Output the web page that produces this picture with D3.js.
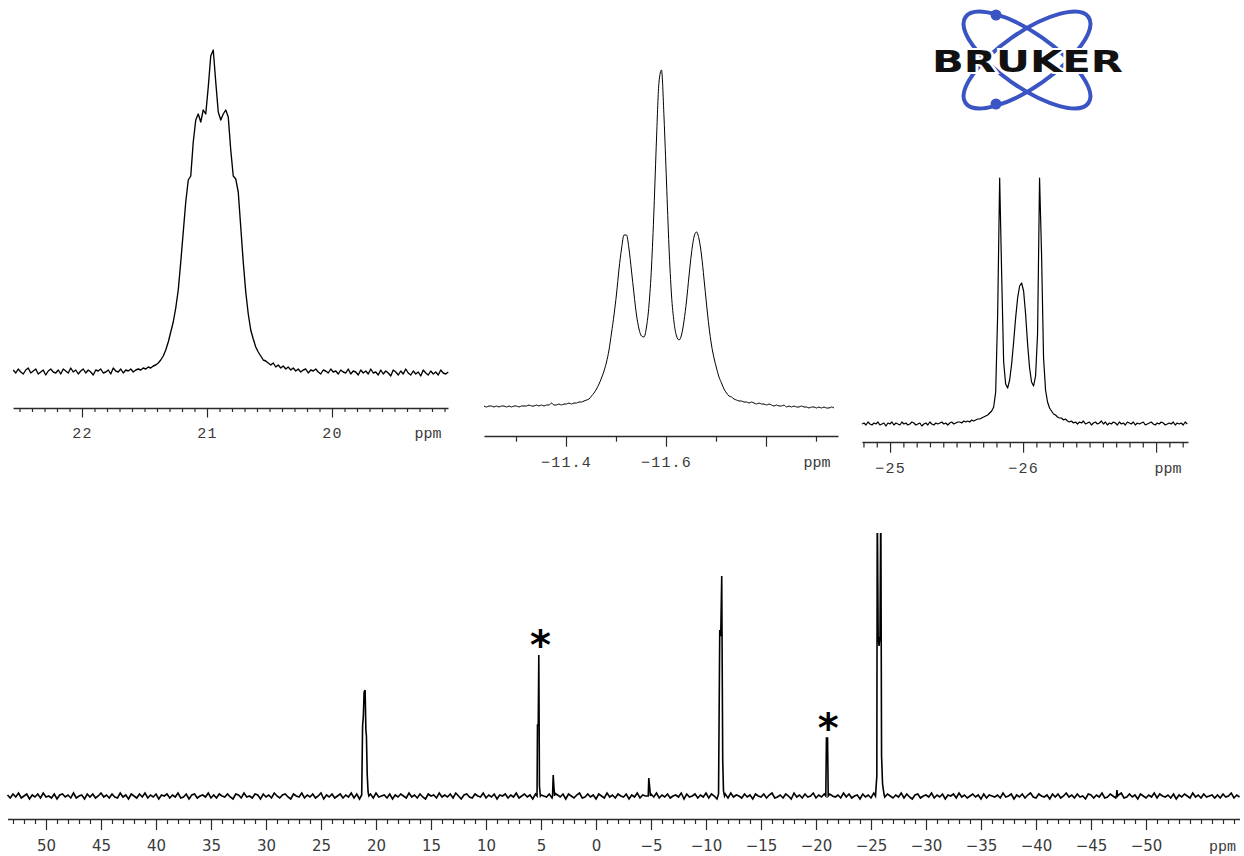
<!DOCTYPE html>
<html>
<head>
<meta charset="utf-8">
<script src="https://cdn.jsdelivr.net/npm/d3@7"></script>
<style>
  html, body { margin: 0; padding: 0; background: #fff; }
  svg { display: block; }
</style>
</head>
<body>
<svg id="chart" width="1244" height="856"></svg>
<script>
// ===================== DATA =====================

// --- full 31P spectrum ---
const mainPpmWindow = [53.5, -58.5];
const mainMajorTicks = [50, 45, 40, 35, 30, 25, 20, 15, 10, 5, 0, -5, -10, -15, -20, -25, -30, -35, -40, -45, -50];
const mainNoiseStart = 53.5;   // ppm of first baseline sample
const mainNoiseStep = -0.25;   // ppm between baseline samples
const mainNoise = [
  1,-2,2,-1,3,-2,0,2,-3,1,-1,2,-2,3,-1,0,-2,2,-3,1,2,-1,1,-2,3,-2,0,1,-3,2,-1,2,-2,0,3,-1,1,-2,2,-1,
  -2,3,-1,1,-3,2,0,-2,2,-1,3,-2,1,-1,2,-3,1,0,2,-2,1,-1,3,-2,-1,2,-3,1,2,-2,0,1,-1,3,-2,1,-2,2,0,-1,
  2,-1,-3,2,1,-2,3,-1,0,-2,2,1,-3,2,-1,1,-2,3,0,-2,1,2,-1,-3,2,0,-1,3,-2,1,-1,2,-2,0,3,-3,1,-1,2,-2,
  0,2,-2,1,-1,3,-2,2,-3,0,1,-1,2,-2,3,-1,0,1,-2,2,-3,1,-1,2,0,-2,3,-1,1,-2,2,-1,-3,2,0,1,-2,3,-1,1,
  -1,2,-2,3,0,-3,1,2,-1,-2,2,0,-1,3,-2,1,-1,2,-3,1,0,2,-2,1,-1,3,-2,0,2,-1,1,-3,2,-2,1,0,-1,2,-2,3,
  1,-1,2,-3,2,0,-2,1,3,-2,-1,2,-1,1,-3,2,0,-2,3,-1,1,-2,2,0,-1,2,-3,1,-1,3,-2,1,0,-2,2,-1,3,-2,1,-1,
  2,-2,0,1,-1,3,-3,2,-1,0,2,-2,1,-1,3,-2,2,0,-3,1,-1,2,-2,3,-1,1,0,-2,2,-1,1,-3,2,0,-1,2,-2,1,3,-2,
  -1,1,-2,2,0,-3,3,-1,1,-2,2,-1,0,3,-2,1,-1,2,-3,2,0,-1,1,-2,3,-1,2,-2,0,1,-3,2,-1,1,-2,3,0,-2,1,-1,
  2,0,-2,1,-1,3,-2,2,-1,-3,1,2,-2,0,1,-1,3,-2,1,-1,2,-3,1,0,2,-2,3,-1,1,-2,0,2,-1,1,-3,2,-2,1,0,-1,
  1,-2,3,-1,0,2,-3,1,-1,2,-2,1,3,-1,-2,2,0,-1,1,-3,2,-1,2,-2,0,3,-1,1,-2,2,-1,0,-3,2,1,-2,1,-1,3,-2,
  -1,2,0,-2,1,3,-2,-1,2,-1,1,-3,2,0,-2,1,-1,3,-2,2,0,-1,1,-2,2,-3,1,-1,2,0,-2,3,-1,1,-2,2,-1,0,1,-2,
  1,-2,2,-1,0,3,-2,1,-1
];
// resonances of the full spectrum, [ppm, intensity]
const peak21 = [[21.30,1],[21.22,70],[21.15,80],[21.08,104],[20.99,106],[20.92,66],[20.87,60],[20.80,22],[20.72,4],[20.65,0]];
const peak5 = [[5.36,0],[5.32,71],[5.25,71],[5.20,141],[5.14,10],[5.06,0]];
const peak4 = [[3.95,0],[3.89,21],[3.82,8],[3.76,0]];
const peakM5 = [[-4.75,0],[-4.80,18],[-4.87,10],[-4.95,0]];
const peakM11 = [[-11.14,2],[-11.25,166],[-11.34,160],[-11.43,220],[-11.52,36],[-11.59,5],[-11.68,0]];
const peakM21 = [[-20.89,0],[-20.95,58],[-21.05,58],[-21.11,0]];
const peakM26 = [[-25.41,0],[-25.53,20],[-25.57,300],[-25.65,160],[-25.73,150],[-25.82,160],[-25.89,300],[-25.96,40],[-26.05,12],[-26.18,2]];
const peakM47 = [[-47.31,0],[-47.36,6],[-47.42,0]];
const starMarks = [[5.05, 141], [-21.1, 58]];

// --- expansion around 21 ppm ---
const inset1Window = [22.552, 19.072];
const inset1Major = [22, 21, 20];
const inset1Labels = ["22", "21", "20"];
const inset1Start = 22.55, inset1Step = -0.02;
const inset1Values = [
  2,-1,3,0,-2,2,4,-1,1,3,-2,0,2,-3,1,3,0,-1,2,-2,3,1,-1,4,0,2,-2,1,3,-1,2,0,-3,2,1,3,-1,0,2,-2,4,1,0,3,-1,2,1,3,0,2,
  3,2,4,3,5,4,6,7,9,12,16,22,30,40,50,64,82,110,140,170,192,196,230,252,258,250,262,258,285,316,322,290,260,252,258,262,255,222,196,193,
  180,145,110,80,58,42,33,25,20,16,12,11,9,7,9,5,7,4,6,3,5,
  2,4,1,3,0,2,3,-1,2,1,3,0,-2,2,1,-1,3,0,1,-2,2,0,-1,3,-2,1,0,-3,2,-1,1,-2,3,-1,0,-3,2,-2,1,-1,
  -4,2,0,-3,1,-2,3,-1,-3,1,-2,0,-4,2,-1,-3,1,-2,0,-3,2,-1,-2,0
];

// --- expansion around -11.6 ppm ---
const inset2Window = [-11.236, -11.944];
const inset2Major = [-11.4, -11.6, -11.8];
const inset2Labels = ["\u221211.4", "\u221211.6", ""];
const inset2Minor = [-11.3, -11.5, -11.7, -11.9];
const inset2Start = -11.236, inset2Step = -0.005;
const inset2Values = [
  1,0,1,1,0,1,0,1,1,0,1,0,1,1,0,1,1,1,2,1,1,2,1,2,1,2,2,4,2,2,3,2,3,3,4,3,4,4,5,5,
  6,7,8,11,14,18,23,29,36,45,57,74,92,113,138,158,172,172,158,136,113,92,78,71,70,80,102,140,198,268,
  325,337,290,225,160,112,85,71,67,72,86,106,131,154,170,175,168,152,128,103,80,62,49,39,30,24,18,14,11,10,
  8,7,6,6,5,5,4,5,4,3,4,3,3,2,3,2,1,2,1,1,2,0,1,0,1,0,0,1,0,0,-1,0,0,-1,0,-1,0,-1,-1,0,-1
];

// --- expansion around -26 ppm ---
const inset3Window = [-24.789, -27.24];
const inset3Major = [-25, -26, -27];
const inset3Labels = ["\u221225", "\u221226", ""];
const inset3Start = -24.789, inset3Step = -0.015;
const inset3Values = [
  0,1,-1,2,0,-1,1,0,2,-1,0,1,-2,1,0,2,-1,1,0,-1,2,0,1,-1,0,2,1,-1,0,1,-2,0,1,-1,2,0,-1,1,0,1,2,0,1,-1,1,2,0,1,2,
  2,1,3,2,3,2,4,3,4,5,5,6,7,8,9,11,13,17,
  32,110,246,150,62,40,36,44,60,82,106,126,138,141,133,110,80,56,42,38,48,90,246,170,66,34,22,16,13,10,9,7,6,6,4,5,3,
  2,3,1,2,0,2,1,3,0,1,2,-1,1,2,0,1,3,0,2,-1,1,0,2,1,-1,2,0,1,-1,2,1,0,2,-1,1,0,1,2,-1,0,
  1,2,0,-1,1,0,2,1,-1,0,1,0,2,-1,1,0,1,-1,2,0
];

// ===================== DRAWING =====================
const svg = d3.select("#chart");
const INK = "#000";
const AXIS = "#2a2a2a";
const LABEL = "#3a3a3a";

function sampled(start, step, values) {
  return values.map((v, i) => [start + step * i, v]);
}

// baseline samples replaced by the resonance points over each resonance's span
function mergeTrace(base, peaks) {
  let pts = base.slice();
  peaks.forEach(pk => {
    const hi = d3.max(pk, d => d[0]), lo = d3.min(pk, d => d[0]);
    pts = pts.filter(d => d[0] > hi || d[0] < lo).concat(pk);
  });
  return pts.sort((a, b) => b[0] - a[0]);
}

// ppm axis: short unlabelled minor ticks plus longer labelled major ticks
function drawPpmAxis(g, x, y0, opts) {
  const minorAxis = d3.axisBottom(x)
    .tickValues(opts.minor)
    .tickSize(opts.minorLen)
    .tickSizeOuter(0)
    .tickFormat("");
  const gMinor = g.append("g").attr("transform", `translate(0,${y0})`).call(minorAxis);
  gMinor.select(".domain").remove();

  const majorAxis = d3.axisBottom(x)
    .tickValues(opts.major)
    .tickSize(opts.majorLen)
    .tickSizeOuter(0)
    .tickPadding(opts.pad)
    .tickFormat((d, i) => opts.labels[i]);
  const gMajor = g.append("g").attr("transform", `translate(0,${y0})`).call(majorAxis);

  g.selectAll(".tick line").attr("stroke", AXIS).attr("stroke-width", 1.2);
  gMajor.select(".domain").attr("stroke", AXIS).attr("stroke-width", 1.6);
  gMajor.selectAll(".tick text")
    .attr("fill", LABEL)
    .style("font-family", opts.font)
    .style("font-size", opts.fontSize + "px")
    .style("letter-spacing", opts.spacing || "0px");

  g.append("text")
    .attr("x", x.range()[1] - opts.ppmInset)
    .attr("y", y0 + opts.ppmDy)
    .attr("text-anchor", "middle")
    .attr("fill", LABEL)
    .style("font-family", "'Liberation Mono', monospace")
    .style("font-size", "15px")
    .text("ppm");
}

function minorTicks(from, to, step, majors) {
  const out = [];
  const n = Math.round((from - to) / step);
  for (let k = 0; k <= n; k++) {
    const v = +(from - k * step).toFixed(3);
    if (!majors.some(m => Math.abs(m - v) < 1e-6)) out.push(v);
  }
  return out;
}

const monoFont = "'Liberation Mono', monospace";

// ---------- expansion 1 ----------
{
  const g = svg.append("g");
  const x = d3.scaleLinear().domain(inset1Window).range([13, 448]);
  const y = d3.scaleLinear().domain([0, 322]).range([372, 50]);
  g.append("path")
    .datum(sampled(inset1Start, inset1Step, inset1Values))
    .attr("fill", "none").attr("stroke", INK).attr("stroke-width", 1.35)
    .attr("stroke-linejoin", "round")
    .attr("d", d3.line().x(d => x(d[0])).y(d => y(d[1])));
  drawPpmAxis(g, x, 408, {
    major: inset1Major, labels: inset1Labels,
    minor: minorTicks(22.5, 19.1, 0.1, inset1Major),
    majorLen: 9.5, minorLen: 4, pad: 10,
    font: monoFont, fontSize: 15, spacing: "1.2px",
    ppmInset: 20, ppmDy: 30
  });
}

// ---------- expansion 2 ----------
{
  const g = svg.append("g");
  const x = d3.scaleLinear().domain(inset2Window).range([484, 838]);
  const y = d3.scaleLinear().domain([0, 337]).range([407, 70]);
  g.append("path")
    .datum(sampled(inset2Start, inset2Step, inset2Values))
    .attr("fill", "none").attr("stroke", INK).attr("stroke-width", 1.0)
    .attr("stroke-linejoin", "round")
    .attr("d", d3.line().curve(d3.curveMonotoneX).x(d => x(d[0])).y(d => y(d[1])));
  drawPpmAxis(g, x, 436, {
    major: inset2Major, labels: inset2Labels,
    minor: inset2Minor,
    majorLen: 10.7, minorLen: 5.7, pad: 10,
    font: monoFont, fontSize: 15, spacing: "1.2px",
    ppmInset: 21, ppmDy: 31
  });
}

// ---------- expansion 3 ----------
{
  const g = svg.append("g");
  const x = d3.scaleLinear().domain(inset3Window).range([862, 1188]);
  const y = d3.scaleLinear().domain([0, 246]).range([424, 178]);
  g.append("path")
    .datum(sampled(inset3Start, inset3Step, inset3Values))
    .attr("fill", "none").attr("stroke", INK).attr("stroke-width", 1.2)
    .attr("stroke-linejoin", "round")
    .attr("d", d3.line().x(d => x(d[0])).y(d => y(d[1])));
  drawPpmAxis(g, x, 442, {
    major: inset3Major, labels: inset3Labels,
    minor: minorTicks(-24.8, -27.2, 0.1, inset3Major),
    majorLen: 10.7, minorLen: 5.4, pad: 9.5,
    font: monoFont, fontSize: 15, spacing: "1.2px",
    ppmInset: 20, ppmDy: 31
  });
}

// ---------- full spectrum ----------
{
  const g = svg.append("g");
  const x = d3.scaleLinear().domain(mainPpmWindow).range([7.5, 1239.5]);
  const y = d3.scaleLinear().domain([0, 263]).range([796, 533]);

  svg.append("defs").append("clipPath").attr("id", "mainClip")
    .append("rect").attr("x", 0).attr("y", 533).attr("width", 1244).attr("height", 280);

  const trace = mergeTrace(
    sampled(mainNoiseStart, mainNoiseStep, mainNoise),
    [peak21, peak5, peak4, peakM5, peakM11, peakM21, peakM26, peakM47]
  );
  g.append("path")
    .datum(trace)
    .attr("clip-path", "url(#mainClip)")
    .attr("fill", "none").attr("stroke", INK).attr("stroke-width", 1.6)
    .attr("stroke-linejoin", "miter")
    .attr("d", d3.line().x(d => x(d[0])).y(d => y(d[1])));

  g.selectAll("text.star")
    .data(starMarks)
    .join("text")
    .attr("class", "star")
    .attr("x", d => x(d[0]))
    .attr("y", d => y(d[1]) + 4)
    .attr("text-anchor", "middle")
    .attr("fill", INK)
    .style("font-family", "'DejaVu Sans', sans-serif")
    .style("font-weight", "bold")
    .style("font-size", "40px")
    .text("*");

  drawPpmAxis(g, x, 819, {
    major: mainMajorTicks, labels: mainMajorTicks.map(d3.format("d")),
    minor: minorTicks(53, -58, 1, mainMajorTicks),
    majorLen: 11, minorLen: 5, pad: 10,
    font: "'DejaVu Sans', sans-serif", fontSize: 15,
    ppmInset: 17, ppmDy: 32
  });
}

// ---------- Bruker logo ----------
{
  const BLUE = "#3b54c4";
  const logo = svg.append("g").attr("transform", "translate(1027,60)");
  [35, -35].forEach(a => {
    logo.append("ellipse")
      .attr("rx", 75).attr("ry", 27)
      .attr("transform", `rotate(${a})`)
      .attr("fill", "none").attr("stroke", BLUE).attr("stroke-width", 4);
  });
  [[-31, -45], [-31, 44]].forEach(p => {
    logo.append("circle").attr("cx", p[0]).attr("cy", p[1]).attr("r", 5.5).attr("fill", BLUE);
  });
  logo.append("text")
    .attr("x", -95).attr("y", 12)
    .attr("textLength", 191).attr("lengthAdjust", "spacingAndGlyphs")
    .attr("fill", "#111")
    .attr("stroke", "#fff").attr("stroke-width", 4)
    .style("paint-order", "stroke")
    .style("font-family", "'DejaVu Sans', sans-serif")
    .style("font-weight", "900")
    .style("font-size", "30px")
    .text("BRUKER");
}
</script>
</body>
</html>
